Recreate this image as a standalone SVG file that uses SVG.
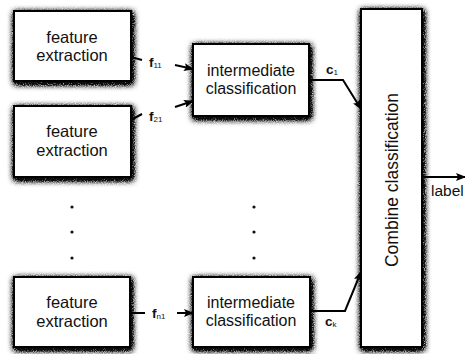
<svg xmlns="http://www.w3.org/2000/svg" width="465" height="354" viewBox="0 0 465 354">
<defs>
<filter id="sh" x="-20%" y="-20%" width="140%" height="140%">
<feGaussianBlur in="SourceAlpha" stdDeviation="3.2" result="blur"/>
<feOffset in="blur" dx="1" dy="2" result="ob"/>
<feTurbulence type="fractalNoise" baseFrequency="1.1" numOctaves="1" seed="3" result="noise"/>
<feColorMatrix in="noise" type="matrix" values="0 0 0 0 0  0 0 0 0 0  0 0 0 0 0  0 0 0 2.2 -0.4" result="nz"/>
<feComposite in="ob" in2="nz" operator="arithmetic" k1="2.2" k2="0.6" k3="0" k4="0" result="sa"/>
<feFlood flood-color="#111"/>
<feComposite in2="sa" operator="in" result="s"/>
<feMerge><feMergeNode in="s"/><feMergeNode in="SourceGraphic"/></feMerge>
</filter>
<marker id="ah" markerWidth="10" markerHeight="8" refX="9" refY="4" orient="auto" markerUnits="userSpaceOnUse">
<path d="M0,0 L10,4 L0,8 L2,4 Z" fill="#000"/>
</marker>
</defs>
<style>
.box{fill:#fff;stroke:#000;stroke-width:2;filter:url(#sh)}
.t{font-family:"Liberation Sans",Arial,sans-serif;font-size:16.5px;fill:#111;text-anchor:middle}
.lb{font-family:"Liberation Sans",Arial,sans-serif;font-size:13.5px;font-weight:bold;fill:#111}
.sub{font-size:8px;font-weight:normal}
.c{fill:none;stroke:#000;stroke-width:2}
.dot{fill:#111}
</style>
<g id="fe1"><rect class="box" x="14" y="11" width="117" height="70"/><text class="t" x="72" y="43">feature</text><text class="t" x="72" y="61">extraction</text></g>
<g id="fe2"><rect class="box" x="14" y="106" width="117" height="71"/><text class="t" x="72" y="137">feature</text><text class="t" x="72" y="156">extraction</text></g>
<g id="fe3"><rect class="box" x="14" y="277" width="116" height="70"/><text class="t" x="72" y="308">feature</text><text class="t" x="72" y="327">extraction</text></g>
<g id="ic1"><rect class="box" x="193" y="44" width="116" height="72"/><text class="t" x="251" y="76" style="font-size:16px">intermediate</text><text class="t" x="251" y="94" style="font-size:16px">classification</text></g>
<g id="ic2"><rect class="box" x="193" y="277" width="117" height="70"/><text class="t" x="251" y="308" style="font-size:16px">intermediate</text><text class="t" x="251" y="326" style="font-size:16px">classification</text></g>
<g id="cc"><rect class="box" x="361" y="9" width="61" height="338"/><text class="t" x="0" y="0" style="font-size:17.5px" transform="translate(398,180) rotate(-90)">Combine classification</text></g>
<g id="dots">
<circle class="dot" cx="72" cy="207" r="1.6"/><circle class="dot" cx="72" cy="232" r="1.6"/><circle class="dot" cx="72" cy="258" r="1.6"/>
<circle class="dot" cx="254" cy="207" r="1.6"/><circle class="dot" cx="254" cy="232" r="1.6"/><circle class="dot" cx="254" cy="258" r="1.6"/>
</g>
<g id="connectors">
<path class="c" d="M131,57 L142,60"/>
<path class="c" d="M175,65 L193,69" marker-end="url(#ah)"/>
<path class="c" d="M131,120 L142,114"/>
<path class="c" d="M175,107 L193,101" marker-end="url(#ah)"/>
<path class="c" d="M130,313 L145,313"/>
<path class="c" d="M177,313 L193,313" marker-end="url(#ah)"/>
<path class="c" d="M309,80 L343,80 L361,109" marker-end="url(#ah)"/>
<path class="c" d="M310,311 L345,311 L361,272" marker-end="url(#ah)"/>
<path class="c" d="M422,177 L465,177" marker-end="url(#ah)"/>
</g>
<g id="labels">
<text class="lb" x="149" y="67">f<tspan class="sub" dy="1">11</tspan></text>
<text class="lb" x="149" y="121">f<tspan class="sub" dy="1">21</tspan></text>
<text class="lb" x="152" y="318">f<tspan class="sub" dy="1">n1</tspan></text>
<text class="lb" x="326" y="74">c<tspan class="sub" dy="1">1</tspan></text>
<text class="lb" x="325" y="326">c<tspan class="sub" dy="1">k</tspan></text>
<text class="t" x="431" y="196" style="font-size:15.5px;text-anchor:start">label</text>
</g>
</svg>
